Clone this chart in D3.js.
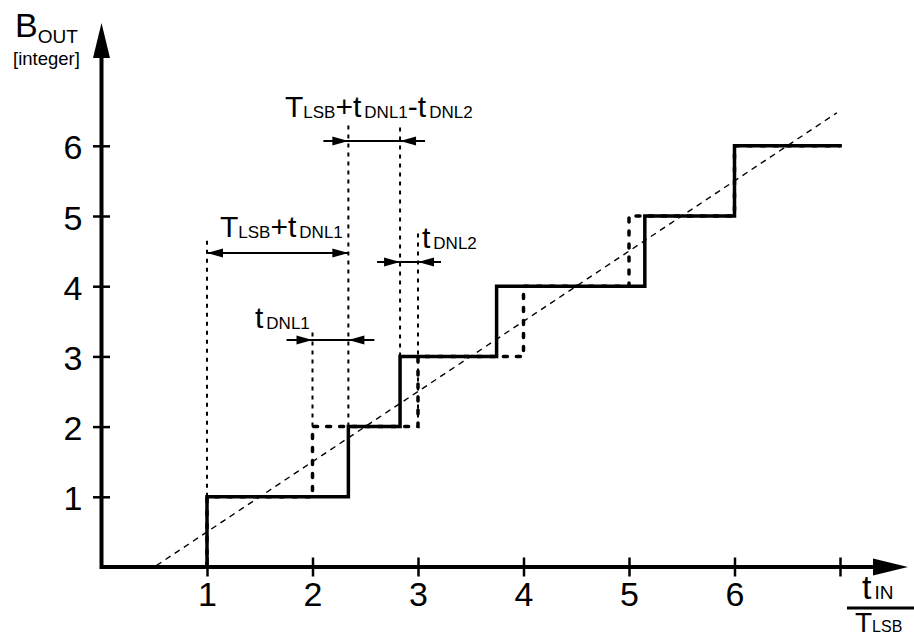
<!DOCTYPE html>
<html><head><meta charset="utf-8">
<script src="https://cdn.jsdelivr.net/npm/d3@7"></script>
<style>
html,body{margin:0;padding:0;background:#fff;}
svg{display:block;}
text{font-family:"Liberation Sans",Arial,Helvetica,sans-serif;fill:#000;}
</style></head>
<body>
<svg id="chart" width="914" height="639"></svg>
<script>
// ---- data ----
const xTickValues = [1, 2, 3, 4, 5, 6, 7];
const xTickLabels = ["1", "2", "3", "4", "5", "6", ""];
const yTickValues = [1, 2, 3, 4, 5, 6];
const yTickLabels = ["1", "2", "3", "4", "5", "6"];
// actual (measured) staircase: input where each code begins
const codes = [0, 1, 2, 3, 4, 5, 6, 6];
const actualX = [1, 1, 2.34, 2.83, 3.745, 5.15, 6, 7];
// ideal staircase
const idealX = [1, 1, 2, 3, 4, 5, 6, 7];
// ideal transfer line
const diagX = [0.52, 6.97];
const diagY = [0.02, 6.47];

const svg = d3.select("#chart");
const x = d3.scaleLinear().domain([0, 7]).range([101.5, 840]);
const y = d3.scaleLinear().domain([0, 6]).range([567, 145.8]);

const stepLine = d3.line().x(d => x(d[0])).y(d => y(d[1])).curve(d3.curveStepAfter);
const idealPts = idealX.map((v, i) => [v, codes[i]]);
const actualPts = actualX.map((v, i) => [v, codes[i]]);

// thin dotted guides
const guides = [
  {x: 1, y0: 1, y1: 4.7},
  {x: actualX[2], y0: 2, y1: 6.3},
  {x: actualX[3], y0: 3, y1: 6.3},
  {x: 2, y0: 2, y1: 3.38},
  {x: 3, y0: 2, y1: 4.75}
];
svg.append("g").selectAll("line").data(guides).join("line")
  .attr("x1", d => x(d.x)).attr("x2", d => x(d.x))
  .attr("y1", d => y(d.y0)).attr("y2", d => y(d.y1))
  .attr("stroke", "#000").attr("stroke-width", 2).attr("stroke-dasharray", "4,5");

// diagonal ideal line
svg.append("line")
  .attr("x1", x(diagX[0])).attr("y1", y(diagY[0]))
  .attr("x2", x(diagX[1])).attr("y2", y(diagY[1]))
  .attr("stroke", "#000").attr("stroke-width", 1.4).attr("stroke-dasharray", "6,5");

// ideal staircase (dotted, thick)
svg.append("path").attr("d", stepLine(idealPts))
  .attr("fill", "none").attr("stroke", "#000").attr("stroke-width", 3.5)
  .attr("stroke-dasharray", "4,9").attr("stroke-linecap", "round");

// actual staircase
svg.append("path").attr("d", stepLine(actualPts))
  .attr("fill", "none").attr("stroke", "#000").attr("stroke-width", 3.5)
  .attr("stroke-linejoin", "miter").attr("stroke-linecap", "square");

// axes
const gx = svg.append("g").attr("transform", `translate(0,${y(0)})`)
  .call(d3.axisBottom(x).tickValues(xTickValues).tickFormat((d, i) => xTickLabels[i]).tickSize(0));
gx.select(".domain").remove();
gx.selectAll(".tick line").attr("y1", -9.5).attr("y2", 9.5).attr("stroke", "#000").attr("stroke-width", 2.5);
gx.selectAll(".tick text").attr("y", 39).attr("dy", 0).attr("font-size", 34)
  .style("font-family", '"Liberation Sans",Arial,sans-serif').attr("fill", "#000");

const gy = svg.append("g").attr("transform", `translate(${x(0)},0)`)
  .call(d3.axisLeft(y).tickValues(yTickValues).tickFormat((d, i) => yTickLabels[i]).tickSize(0));
gy.select(".domain").remove();
gy.selectAll(".tick line").attr("x1", -8.5).attr("x2", 8.5).attr("stroke", "#000").attr("stroke-width", 2.5);
gy.selectAll(".tick text").attr("x", -19).attr("dy", 13).attr("font-size", 34)
  .style("font-family", '"Liberation Sans",Arial,sans-serif').attr("fill", "#000");

// axis lines with arrowheads
svg.append("line").attr("x1", x(0)).attr("x2", 875).attr("y1", y(0)).attr("y2", y(0))
  .attr("stroke", "#000").attr("stroke-width", 4);
svg.append("path").attr("d", `M908,${y(0)} L873,${y(0) - 8.5} L873,${y(0) + 8.5} Z`).attr("fill", "#000");
svg.append("line").attr("x1", x(0)).attr("x2", x(0)).attr("y1", y(0) + 2).attr("y2", 56)
  .attr("stroke", "#000").attr("stroke-width", 4);
svg.append("path").attr("d", `M${x(0)},23 L${x(0) - 8.5},58 L${x(0) + 8.5},58 Z`).attr("fill", "#000");

// arrow helpers
function head(g, tipX, yy, dir) { // dir: -1 points left, +1 points right
  const L = 16, W = 4.5;
  g.append("path").attr("d", `M${tipX},${yy} L${tipX - dir * L},${yy - W} L${tipX - dir * L},${yy + W} Z`).attr("fill", "#000");
}
function outward(xa, xb, yy) {
  const g = svg.append("g");
  g.append("line").attr("x1", xa).attr("x2", xb).attr("y1", yy).attr("y2", yy).attr("stroke", "#000").attr("stroke-width", 2);
  head(g, xa, yy, -1); head(g, xb, yy, 1);
}
function inward(xa, xb, yy, ext) {
  const g = svg.append("g");
  g.append("line").attr("x1", xa - ext).attr("x2", xb + ext).attr("y1", yy).attr("y2", yy).attr("stroke", "#000").attr("stroke-width", 2);
  head(g, xa, yy, 1); head(g, xb, yy, -1);
}
outward(x(1), x(actualX[2]), y(4.473));
inward(x(actualX[2]), x(actualX[3]), y(6.068), 25);
inward(x(2), x(actualX[2]), y(3.234), 26);
inward(x(actualX[3]), x(3), y(4.345), 23);

// rich text helper
function rich(px, py, parts, big, small, anchor) {
  const t = svg.append("text").attr("x", px).attr("y", py).attr("font-size", big)
    .attr("text-anchor", anchor || "start");
  let shifted = 0;
  parts.forEach(p => {
    const s = t.append("tspan").text(p.t);
    if (p.sub) {
      s.attr("font-size", small).attr("dy", p.dy - shifted);
      if (p.dx) s.attr("dx", p.dx);
      shifted = p.dy;
    } else {
      s.attr("dy", -shifted);
      shifted = 0;
    }
  });
  return t;
}
rich(220, 237, [{t: "T"}, {t: "LSB", sub: true, dy: 1}, {t: "+t"}, {t: "DNL1", sub: true, dy: 1, dx: 3}], 30, 17);
rich(285, 117, [{t: "T"}, {t: "LSB", sub: true, dy: 1}, {t: "+t"}, {t: "DNL1", sub: true, dy: 1, dx: 3},
  {t: "-t"}, {t: "DNL2", sub: true, dy: 1, dx: 3}], 30, 17);
rich(255, 328, [{t: "t"}, {t: "DNL1", sub: true, dy: 1, dx: 3}], 30, 17);
rich(422, 248, [{t: "t"}, {t: "DNL2", sub: true, dy: 1, dx: 3}], 30, 17);

// axis titles
rich(15, 37, [{t: "B"}, {t: "OUT", sub: true, dy: 6}], 34, 19);
svg.append("text").attr("x", 13).attr("y", 65).attr("font-size", 18.5).text("[integer]");
rich(862, 599, [{t: "t"}, {t: "IN", sub: true, dy: 0, dx: 3}], 34, 19);
svg.append("line").attr("x1", 847).attr("x2", 914).attr("y1", 608).attr("y2", 608).attr("stroke", "#000").attr("stroke-width", 3);
rich(855, 632, [{t: "T"}, {t: "LSB", sub: true, dy: 0}], 28, 16);
</script>
</body></html>
